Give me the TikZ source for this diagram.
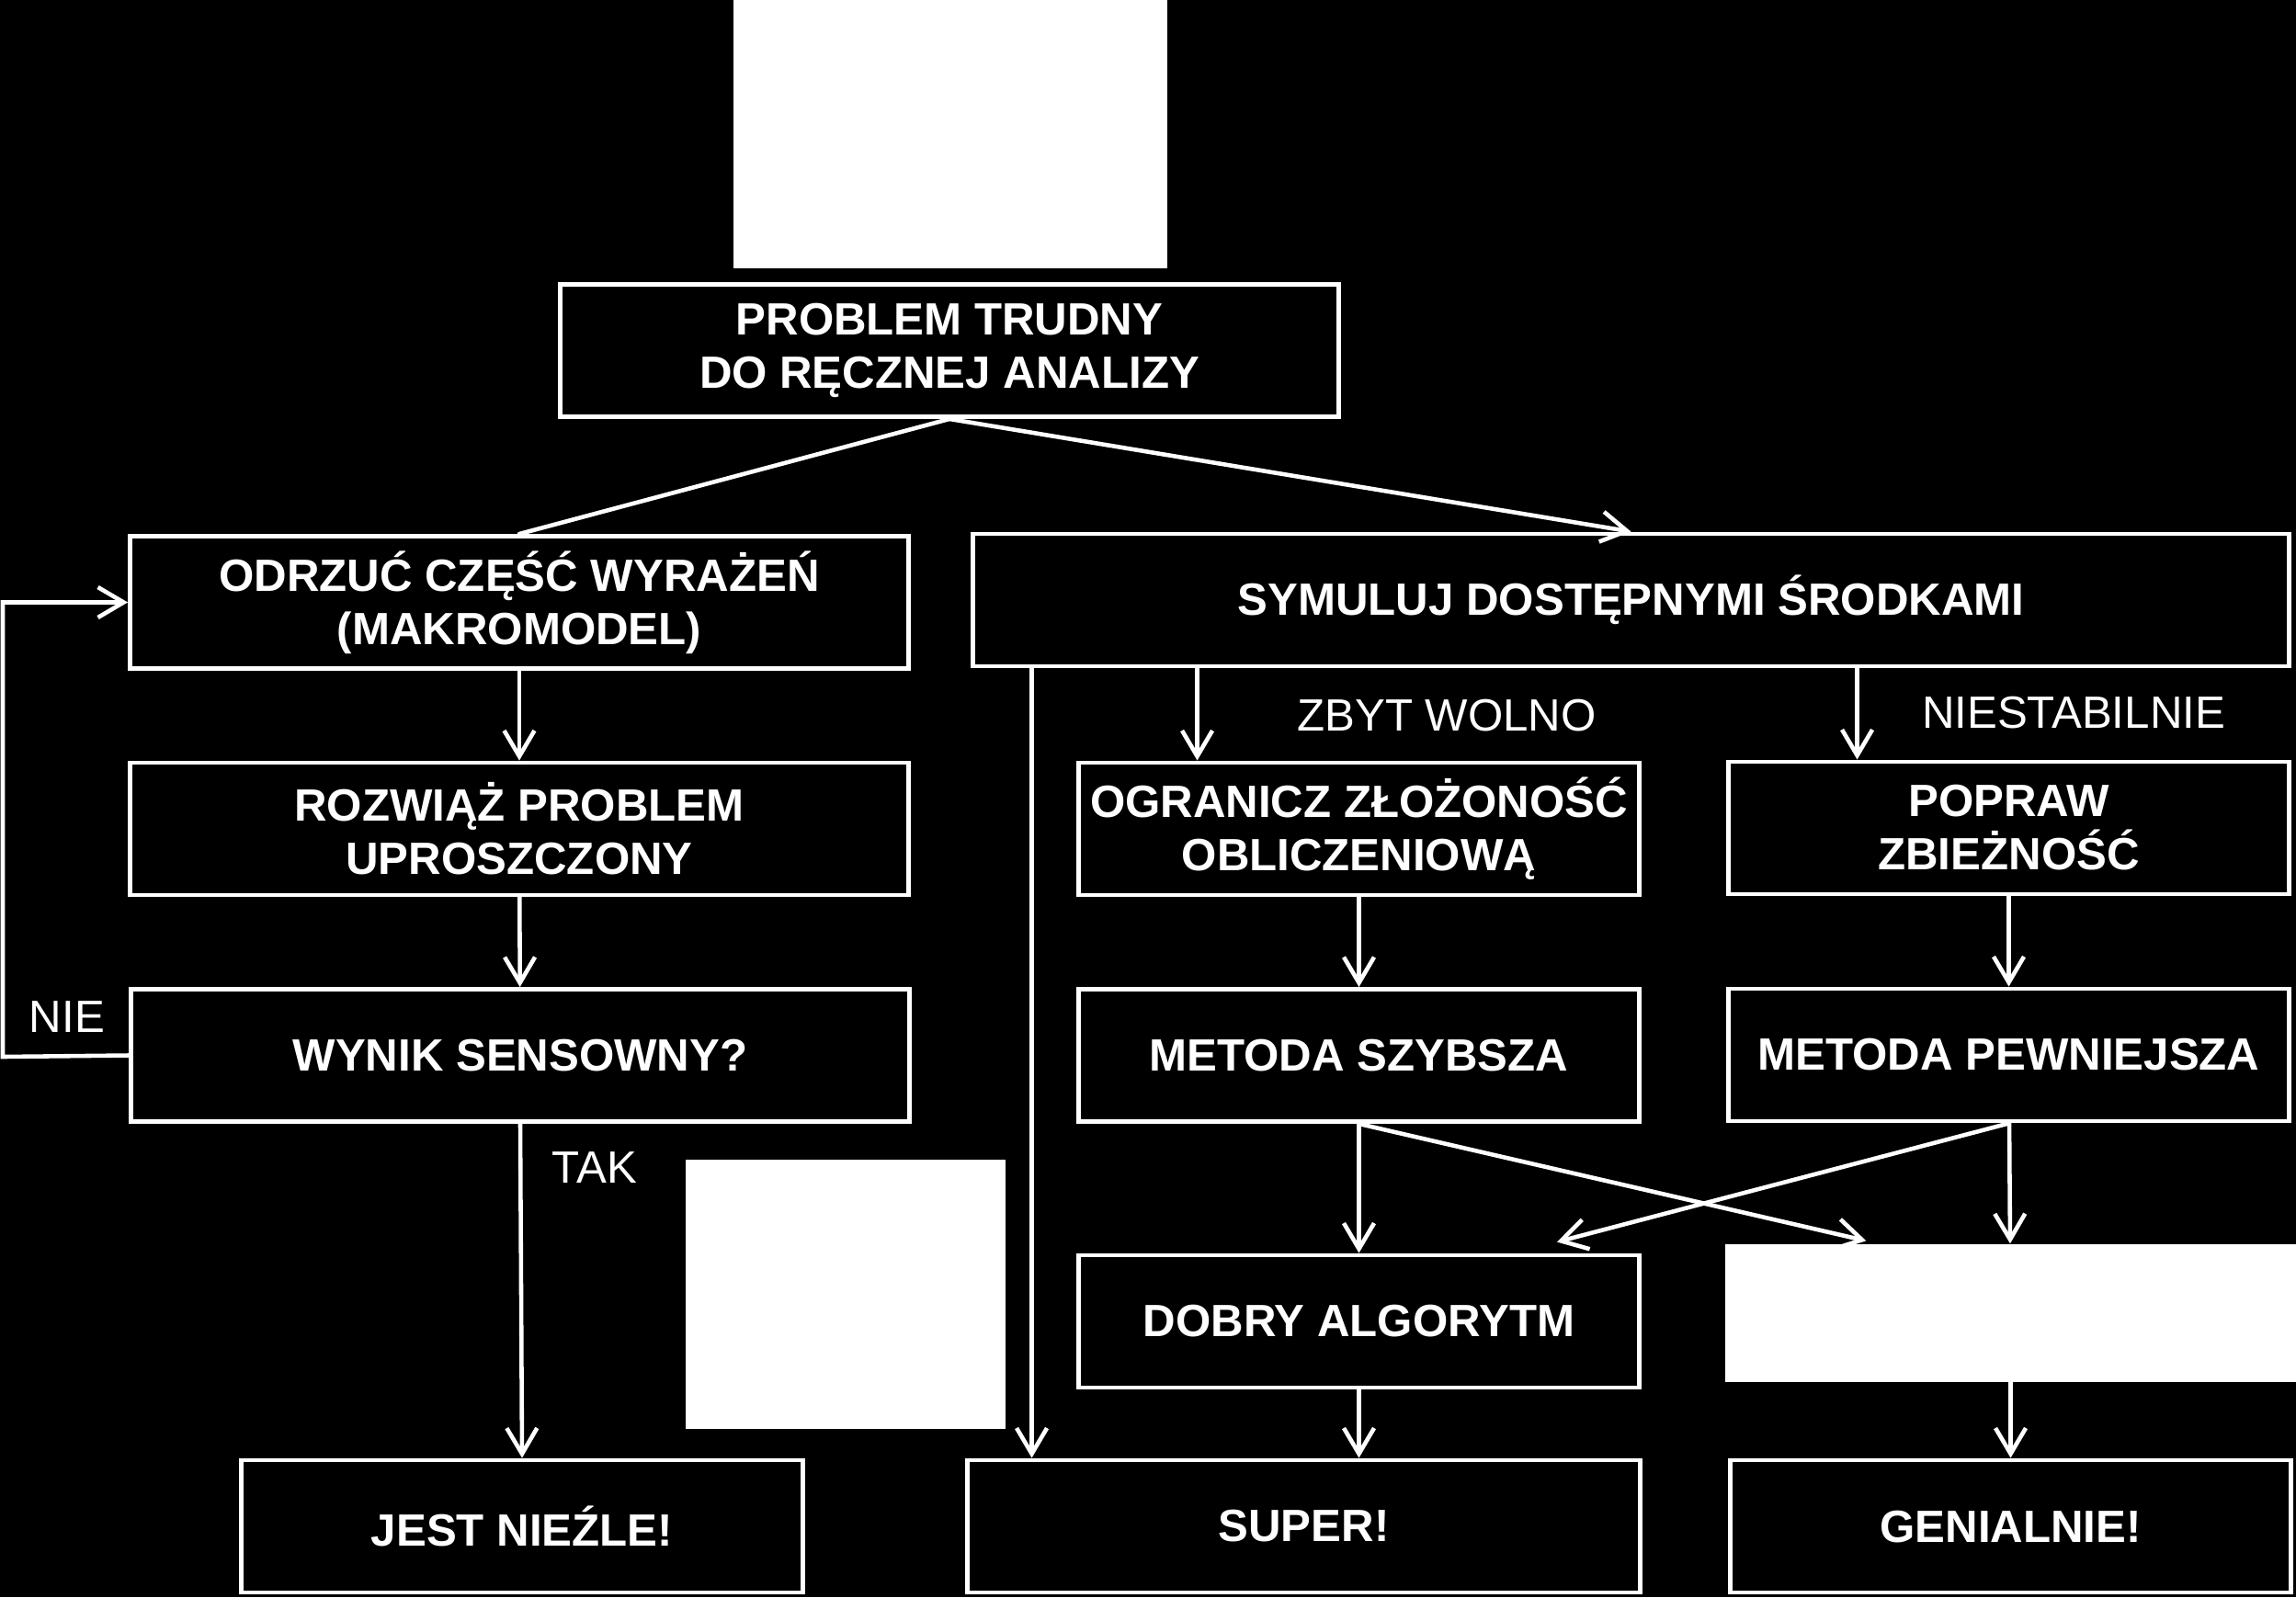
\documentclass[tikz,border=0pt]{standalone}
\usepackage{fontspec}
\setmainfont{Liberation Sans}
\usepackage{tikz}
\usetikzlibrary{arrows.meta}

\begin{document}
\begin{tikzpicture}[>={Straight Barb[length=2.8mm,width=3.3mm]},
  font=\fontsize{14}{16.5}\selectfont,line cap=round,
  box/.style={draw=white,line width=1.4pt,fill=black,text=white,font=\fontsize{14}{16.5}\selectfont\bfseries,
    align=center,inner sep=0pt,minimum width=8.47cm,minimum height=1.44cm},
  lbl/.style={text=white,inner sep=0pt},
  conn/.style={draw=white,line width=1.3pt,->}]
\fill[black] (0,0) rectangle (24.98,-17.38);
\useasboundingbox (0,0) rectangle (24.98,-17.38);
\fill[white] (7.98,0) rectangle (12.70,-2.92);
\fill[white] (7.46,-12.62) rectangle (10.94,-15.55);
\node[box] (problem) at (10.33,-3.815) {PROBLEM TRUDNY\\DO RĘCZNEJ ANALIZY};
\node[box] (odrzuc) at (5.65,-6.555) {ODRZUĆ CZĘŚĆ WYRAŻEŃ\\(MAKROMODEL)};
\node[box,minimum width=14.32cm] (symuluj) at (17.745,-6.53) {SYMULUJ DOSTĘPNYMI ŚRODKAMI};
\node[box] (rozwiaz) at (5.65,-9.02) {ROZWIĄŻ PROBLEM\\UPROSZCZONY};
\node[box] (wynik) at (5.66,-11.485) {WYNIK SENSOWNY?};
\node[box,minimum width=6.10cm] (ogranicz) at (14.785,-9.02) {OGRANICZ ZŁOŻONOŚĆ\\OBLICZENIOWĄ};
\node[box,minimum width=6.10cm] (popraw) at (21.855,-9.01) {POPRAW\\ZBIEŻNOŚĆ};
\node[box,minimum width=6.10cm] (szybsza) at (14.785,-11.485) {METODA SZYBSZA};
\node[box,minimum width=6.10cm] (pewniejsza) at (21.855,-11.48) {METODA PEWNIEJSZA};
\node[box,minimum width=6.10cm] (dobry) at (14.785,-14.38) {DOBRY ALGORYTM};
\node[fill=white,inner sep=0pt,minimum width=6.21cm,minimum height=1.50cm] (ukryty) at (21.875,-14.29) {};
\node[box,minimum width=6.11cm] (jest) at (5.68,-16.61) {JEST NIEŹLE!};
\node[box,minimum width=7.32cm] (super) at (14.185,-16.61) {SUPER!};
\node[box,minimum width=6.10cm,text depth=-0.1cm] (genialnie) at (21.875,-16.61) {GENIALNIE!};
\node[lbl] (zbyt) at (15.74,-7.79) {ZBYT WOLNO};
\node[lbl] (niestab) at (22.56,-7.76) {NIESTABILNIE};
\node[lbl] (nie) at (0.73,-11.07) {NIE};
\node[lbl] (tak) at (6.47,-12.71) {TAK};
\coordinate (petla) at (0.03,-11.5);
\draw[conn,-] (problem.south) -- (odrzuc.north);
\draw[conn] (problem.south) -- (symuluj.north);
\draw[conn] (odrzuc) -- (rozwiaz);
\draw[conn] (rozwiaz) -- (wynik);
\draw[conn] (wynik.west) -- (petla) |- (odrzuc.west);
\draw[conn] (wynik.south) -- (jest.north);
\draw[conn] ([xshift=7.25mm]super.north west |- symuluj.south) -- ([xshift=7.25mm]super.north west);
\draw[conn] ([xshift=13.15mm]ogranicz.north west |- symuluj.south) -- ([xshift=13.15mm]ogranicz.north west);
\draw[conn] ([xshift=14.25mm]popraw.north west |- symuluj.south) -- ([xshift=14.25mm]popraw.north west);
\draw[conn] (ogranicz) -- (szybsza);
\draw[conn] (popraw) -- (pewniejsza);
\draw[conn] (szybsza) -- (dobry);
\draw[conn] (szybsza.south) -- ([shift={(15.4mm,0.3mm)}]ukryty.north west);
\draw[conn] (pewniejsza.south) -- ([shift={(-9.2mm,1.2mm)}]dobry.north east);
\draw[conn] (pewniejsza) -- (ukryty);
\draw[conn] (ukryty) -- (genialnie);
\draw[conn] (dobry.south) -- (dobry.south |- super.north);
\end{tikzpicture}
\end{document}
